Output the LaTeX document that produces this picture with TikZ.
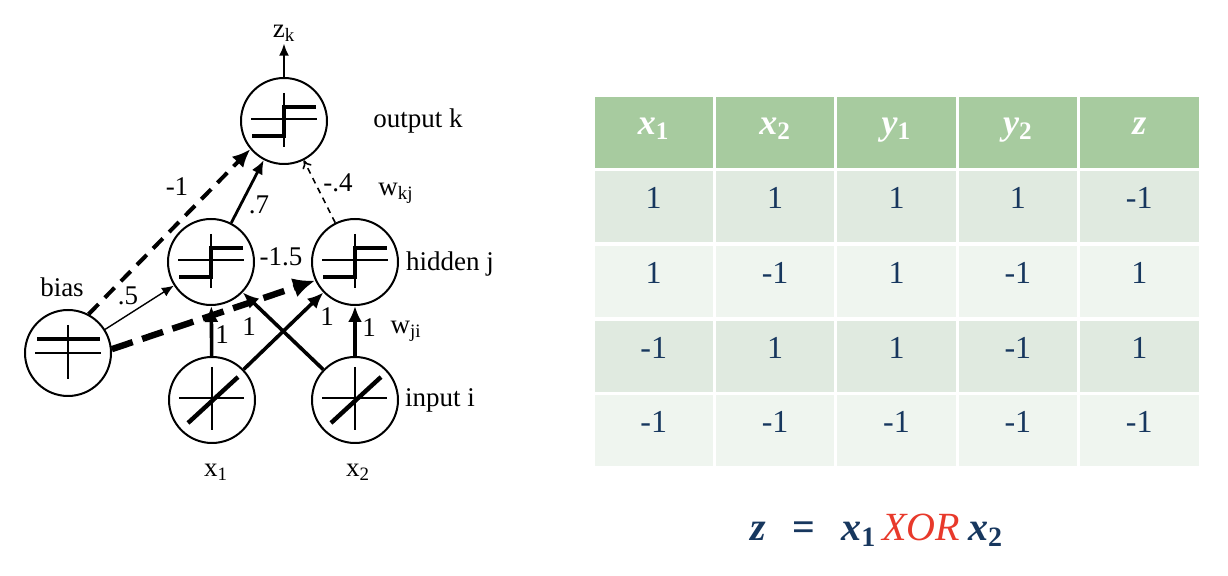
\documentclass[tikz,border=0pt]{standalone}
\usepackage{fontspec}
\setmainfont{Liberation Serif}
\usetikzlibrary{arrows.meta}

\definecolor{hdrgreen}{HTML}{A7CB9F}
\definecolor{rowdark}{HTML}{E0EAE0}
\definecolor{rowlight}{HTML}{EFF5EF}
\definecolor{numblue}{HTML}{17375E}
\definecolor{xorred}{HTML}{E8392B}

\newcommand{\hsub}[2]{\textbf{\textit{#1}}\textsubscript{\textbf{#2}}}

\tikzset{
  neuron/.style={draw, circle, line width=1pt, minimum size=43pt, inner sep=0pt},
  lbl/.style={font=\fontsize{13.5}{16}\selectfont, inner sep=1pt},
  cell/.style={minimum width=59.2pt, minimum height=35.5pt, inner sep=0pt,
    text height=12pt, text depth=10pt, font=\fontsize{16}{18}\selectfont},
  hdr/.style={cell, fill=hdrgreen, text=white, font=\fontsize{18}{20}\selectfont},
  dk/.style={cell, fill=rowdark, text=numblue},
  lt/.style={cell, fill=rowlight, text=numblue},
  wire/.style={line width=1.8pt, -{Latex[length=8pt,width=7pt]}},
}

\begin{document}
\begin{tikzpicture}[x=0.5pt,y=-0.5pt]
\useasboundingbox (0,0) rectangle (1228,576);

% units
\node[neuron] (out) at (284,121) {};
\node[neuron] (hidA) at (211,262) {};
\node[neuron] (hidB) at (355,262) {};
\node[neuron] (bias) at (68,353) {};
\node[neuron] (inA) at (212,400) {};
\node[neuron] (inB) at (355,400) {};

% step functions
\foreach \n in {out,hidA,hidB} {
  \draw[line width=1pt] ([shift={(-33,-2)}]\n.center) -- ++(66,0);
  \draw[line width=1pt] ([shift={(0,-28)}]\n.center) -- ++(0,54);
  \draw[line width=2.2pt] ([shift={(-32,15)}]\n.center) -- ++(32,0) -- ++(0,-29) -- ++(32,0);
}
% bias symbol
\draw[line width=2.2pt] ([shift={(-31,-14)}]bias.center) -- ++(63,0);
\draw[line width=1pt] ([shift={(-33,0)}]bias.center) -- ++(66,0);
\draw[line width=1pt] ([shift={(0,-28)}]bias.center) -- ++(0,54);
% linear inputs
\foreach \n in {inA,inB} {
  \draw[line width=1pt] ([shift={(-33,-2)}]\n.center) -- ++(65,0);
  \draw[line width=1pt] ([shift={(0,-33)}]\n.center) -- ++(0,63);
  \draw[line width=2.2pt] ([shift={(-24,23)}]\n.center) -- ++(50,-46);
}

% labels
\node[lbl] (zk) at (284,33) {z\textsubscript{k}};
\node[lbl] (outlbl) at (418,121) {output k};
\node[lbl] (hidlbl) at (450,264) {hidden j};
\node[lbl] (inlbl) at (440,400) {input i};
\node[lbl] (biaslbl) at (62,287) {bias};
\node[lbl] (xA) at (216,472) {x\textsubscript{1}};
\node[lbl] (xB) at (358,472) {x\textsubscript{2}};
\node[lbl] (wkj) at (396,193) {w\textsubscript{kj}};
\node[lbl] (wji) at (406,331) {w\textsubscript{ji}};

% weights
\node[lbl] (w-bo) at (177,187) {-1};
\node[lbl] (w-ao) at (259,205) {.7};
\node[lbl] (w-bo2) at (338,183) {-.4};
\node[lbl] (w-bb) at (281,257) {-1.5};
\node[lbl] (w-ba) at (128,296) {.5};
\node[lbl] (w-aa) at (222,335) {1};
\node[lbl] (w-ba2) at (249,327) {1};
\node[lbl] (w-ab) at (327,317) {1};
\node[lbl] (w-bb2) at (369,328) {1};

% connections
\draw[line width=0.8pt, -{Latex[length=6pt,width=5pt]}] (out) -- (zk);
\draw[line width=2pt, dash pattern=on 7pt off 4.5pt, -{Latex[length=9pt,width=8pt]}] (bias.62) -- (out.220);
\draw[line width=0.7pt, -{Latex[length=6pt,width=5pt]}] (bias) -- (hidA);
\draw[line width=3.2pt, dash pattern=on 11pt off 5pt, -{Latex[length=11pt,width=10pt]}] (bias.5) -- (hidB.205);
\draw[line width=1.4pt, -{Latex[length=7pt,width=6pt]}] (hidA) -- (out);
\draw[line width=0.8pt, dash pattern=on 3pt off 2.5pt, -{To[length=4pt,width=5pt]}] (hidB) -- (out);
\draw[wire] (inA) -- (hidA);
\draw[wire] (inA) -- (hidB);
\draw[wire] (inB) -- (hidA);
\draw[wire] (inB) -- (hidB);

% truth table
\node[hdr] (h1) at (653.7,132.5) {\hsub{x}{1}};
\node[hdr] (h2) at (775.1,132.5) {\hsub{x}{2}};
\node[hdr] (h3) at (896.5,132.5) {\hsub{y}{1}};
\node[hdr] (h4) at (1017.9,132.5) {\hsub{y}{2}};
\node[hdr] (h5) at (1139.3,132.5) {\textbf{\textit{z}}};

\node[dk] (c11) at (653.7,207) {1};
\node[dk] (c12) at (775.1,207) {1};
\node[dk] (c13) at (896.5,207) {1};
\node[dk] (c14) at (1017.9,207) {1};
\node[dk] (c15) at (1139.3,207) {-1};

\node[lt] (c21) at (653.7,282) {1};
\node[lt] (c22) at (775.1,282) {-1};
\node[lt] (c23) at (896.5,282) {1};
\node[lt] (c24) at (1017.9,282) {-1};
\node[lt] (c25) at (1139.3,282) {1};

\node[dk] (c31) at (653.7,357) {-1};
\node[dk] (c32) at (775.1,357) {1};
\node[dk] (c33) at (896.5,357) {1};
\node[dk] (c34) at (1017.9,357) {-1};
\node[dk] (c35) at (1139.3,357) {1};

\node[lt] (c41) at (653.7,431) {-1};
\node[lt] (c42) at (775.1,431) {-1};
\node[lt] (c43) at (896.5,431) {-1};
\node[lt] (c44) at (1017.9,431) {-1};
\node[lt] (c45) at (1139.3,431) {-1};

\node[text=numblue, font=\fontsize{20}{22}\selectfont] (eqn) at (877,530)
  {\textbf{\textit{z}}\hspace{13pt}\textbf{=}\hspace{13pt}\hsub{x}{1}\hspace{3pt}\textcolor{xorred}{\textit{XOR}}\hspace{4pt}\hsub{x}{2}};
\end{tikzpicture}
\end{document}
